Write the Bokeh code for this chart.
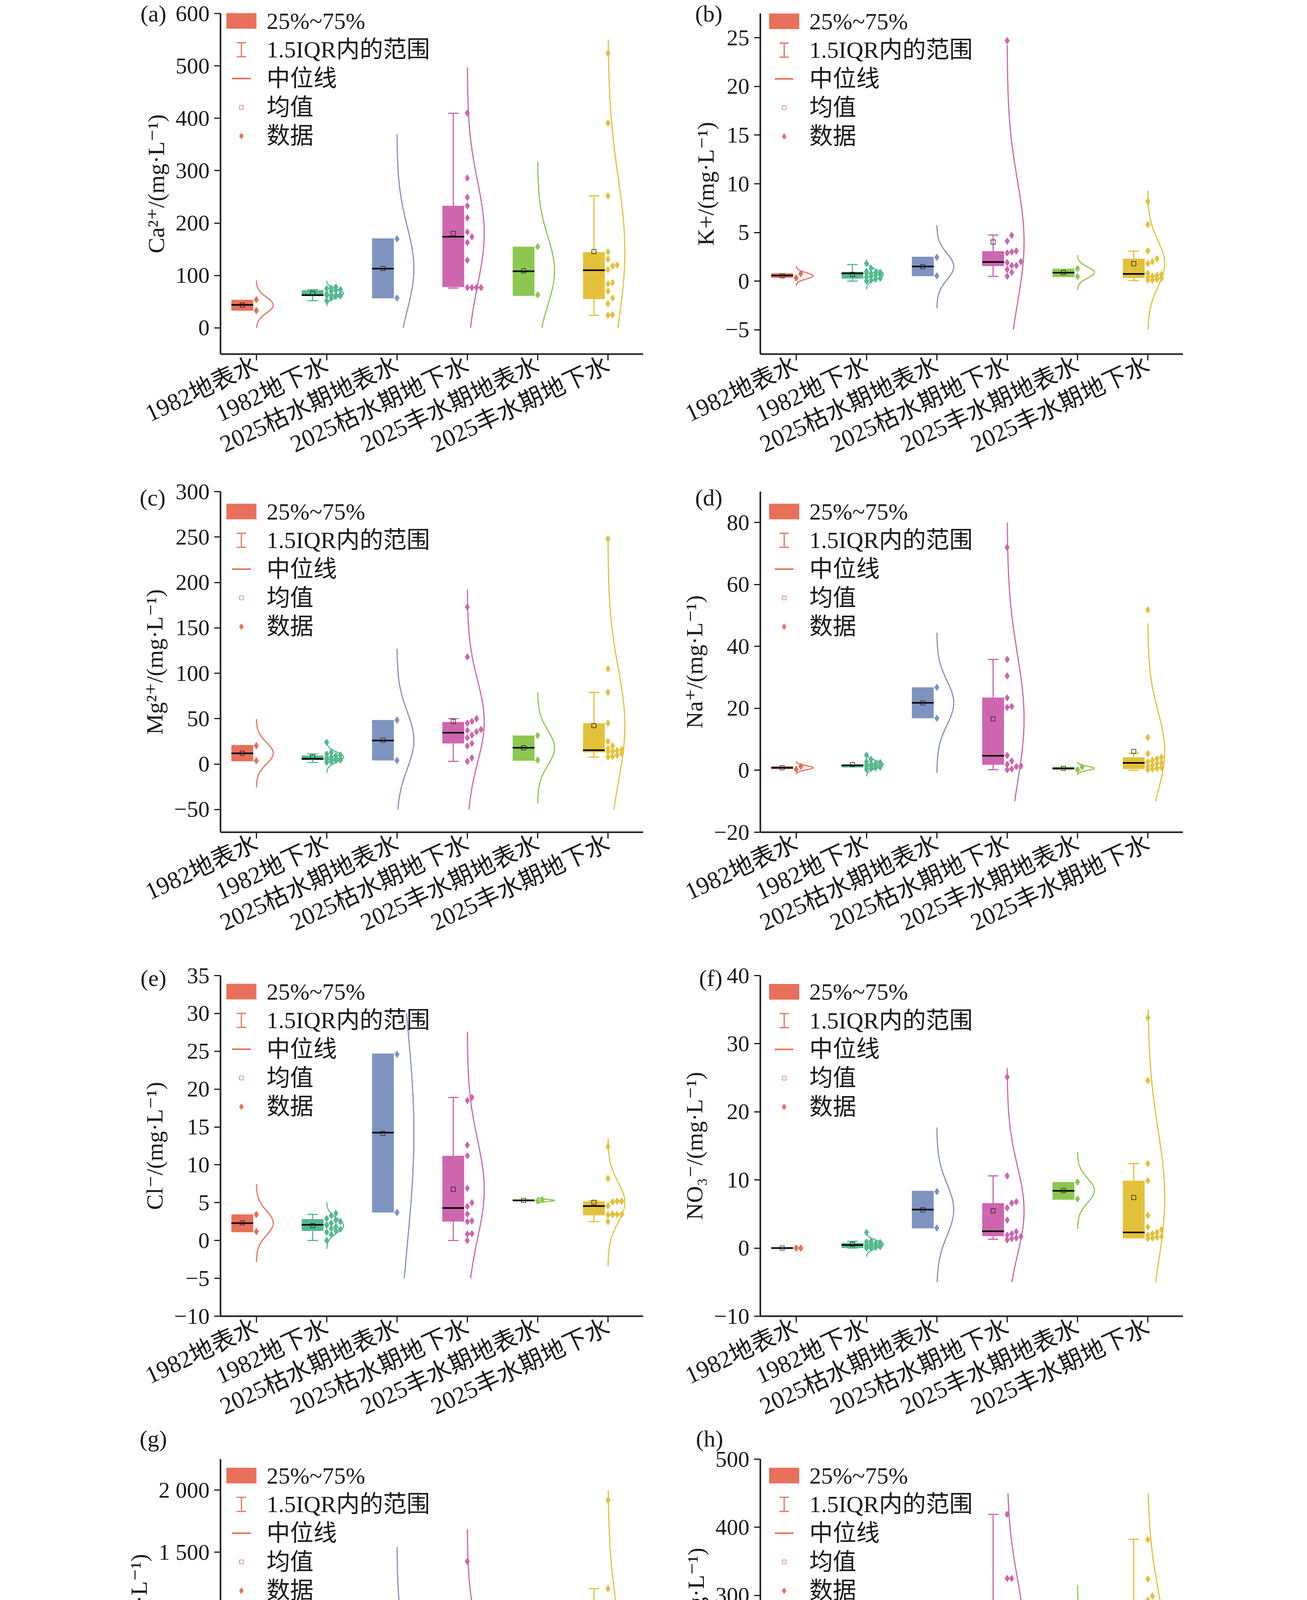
import numpy as np
from math import pi
from bokeh.plotting import figure
from bokeh.layouts import gridplot
from bokeh.models import Range1d, FixedTicker, Label
from bokeh.embed import file_html
from bokeh.resources import INLINE

# ---------------- data ----------------
groups = ["1982地表水", "1982地下水", "2025枯水期地表水", "2025枯水期地下水", "2025丰水期地表水", "2025丰水期地下水"]
legend_labels = ["25%~75%", "1.5IQR内的范围", "中位线", "均值", "数据"]

ca_pts = [[54, 33], [52, 57, 60, 61, 62, 62, 62.5, 63, 65, 70, 72, 73, 75, 76, 78], [170, 57],
          [410, 286, 249, 233, 210, 183, 174, 163, 129, 77, 77, 77, 77], [155, 63],
          [524, 391, 252, 145, 131, 120, 118, 111, 86, 84, 70, 57, 46, 25, 24]]
ca_q1 = [33, 60.7, 56.5, 78, 61, 55]
ca_med = [44, 62.5, 113, 174, 108, 110]
ca_q3 = [53.6, 72, 170.8, 233, 155, 144.6]
ca_wlo = [None, 52, None, 76, None, 24]
ca_whi = [None, 73, None, 409.5, None, 252]

k_pts = [[0.77, 0.32], [1.8, 1.3, 1.0, 0.9, 0.8, 0.8, 0.7, 0.6, 0.5, 0.4, 0.3, 0.2, 0.1, 0.0, 0.9], [2.44, 0.55],
         [24.7, 4.7, 4.1, 3.1, 3.0, 2.9, 2.0, 1.9, 1.6, 1.6, 1.2, 0.9, 0.5], [1.28, 0.48],
         [8.2, 5.8, 3.1, 2.3, 2.0, 1.8, 0.8, 0.7, 0.6, 0.5, 0.4, 0.3, 0.2, 0.1, 0.1]]
k_q1 = [0.35, 0.26, 0.51, 1.54, 0.42, 0.32]
k_med = [0.58, 0.8, 1.5, 1.96, 0.87, 0.74]
k_q3 = [0.8, 0.96, 2.5, 3.08, 1.28, 2.3]
k_wlo = [None, 0.0, None, 0.48, None, 0.06]
k_whi = [None, 1.7, None, 4.74, None, 3.08]

mg_pts = [[20.3, 3.7], [24, 13, 11, 10, 9, 8, 7, 6, 6, 5, 5, 4.5, 4, 3, 2], [48.5, 4],
          [173, 118, 50, 47, 45, 38, 37, 35.6, 32, 29, 22.7, 20, 6.8, 3], [31.5, 4.4],
          [248, 105, 79, 45, 25, 20, 17, 16, 15, 14, 13.5, 12, 10, 8.5, 8]]
mg_q1 = [3, 4.4, 4, 22.7, 3.7, 12.9]
mg_med = [11.9, 5.8, 26, 34.6, 18, 15.3]
mg_q3 = [21, 9.5, 48.5, 46.4, 31.5, 45]
mg_wlo = [None, 1.7, None, 3, None, 7.8]
mg_whi = [None, 11.2, None, 50, None, 79]

na_pts = [[1.3, 0.35], [4.9, 3.5, 2.8, 2.5, 2.2, 2.0, 1.8, 1.6, 1.5, 1.4, 1.2, 1.0, 0.8, 0.6, 0.3], [26.8, 16.8],
          [72, 35.8, 30.5, 23.4, 20.6, 20.3, 4.8, 3.0, 1.9, 1.4, 1.2, 0.4, 0.2], [1.1, 0.15],
          [51.8, 10.6, 5.4, 4.2, 3.7, 3.2, 2.7, 2.4, 2.2, 1.7, 1.2, 0.9, 0.7, 0.4, 0.2]]
na_q1 = [0.4, 0.9, 16.8, 1.8, 0.2, 0.4]
na_med = [0.8, 1.6, 21.8, 4.7, 0.6, 2.4]
na_q3 = [1.3, 1.9, 26.8, 23.5, 1.1, 4.2]
na_wlo = [None, None, None, 0.2, None, 0.0]
na_whi = [None, None, None, 35.8, None, 5.5]

cl_pts = [[3.45, 1.18], [3.6, 3.3, 2.9, 2.7, 2.5, 2.3, 2.1, 2.0, 1.8, 1.6, 1.5, 1.3, 1.1, 0.8, 0.0], [24.6, 3.7],
          [18.9, 18.5, 12.6, 11.2, 6.9, 5.0, 4.5, 3.5, 2.6, 2.5, 0.9, 0.85, 0.0], [5.4, 5.2],
          [12.4, 8.2, 5.2, 5.2, 5.2, 5.1, 4.6, 3.5, 3.45, 3.45, 3.4, 3.4, 2.5]]
cl_q1 = [1.1, 1.26, 3.7, 2.5, 5.16, 3.33]
cl_med = [2.3, 2.07, 14.25, 4.3, 5.3, 4.55]
cl_q3 = [3.45, 2.84, 24.7, 11.2, 5.44, 5.16]
cl_wlo = [None, 0.0, None, 0.0, None, 2.5]
cl_whi = [None, 3.45, None, 18.9, None, 5.24]

no3_pts = [[0.0, 0.0], [2.3, 1.0, 0.9, 0.8, 0.7, 0.6, 0.5, 0.45, 0.4, 0.3, 0.25, 0.2, 0.1, 0.0, 0.0], [8.3, 2.96],
           [25.1, 10.6, 6.8, 6.6, 5.9, 4.1, 2.4, 2.1, 1.9, 1.7, 1.5, 1.4, 1.2], [9.7, 7.2],
           [33.8, 24.6, 12.4, 9.9, 4.8, 3.1, 2.7, 2.3, 2.1, 1.9, 1.7, 1.6, 1.5, 1.4]]
no3_q1 = [0, 0, 2.9, 1.75, 7.1, 1.43]
no3_med = [0, 0.45, 5.65, 2.47, 8.4, 2.3]
no3_q3 = [0, 0.76, 8.4, 6.6, 9.7, 9.9]
no3_wlo = [None, 0.0, None, 1.3, None, None]
no3_whi = [None, 1.0, None, 10.6, None, 12.4]

so4_pts = [[30, 15], [45, 40, 35, 32, 30, 28, 26, 25, 24, 22, 20, 18, 15, 12, 8], [600, 67],
           [1425, 902, 650, 605, 540, 475, 455, 418, 405, 270, 117, 67, 30], [305, 37],
           [1918, 1205, 972, 668, 350, 262, 205, 148, 105, 98, 80, 55, 42, 25, 0]]
so4_q1 = [15, 12, 62.5, 270, 32.5, 72.5]
so4_med = [22.5, 25, 332, 452, 168, 157]
so4_q3 = [30, 42, 600, 607, 305, 670]
so4_wlo = [None, 5, None, 25, None, 0]
so4_whi = [None, 45, None, 902, None, 1205]

hco3_pts = [[179.6, 160.4], [245, 232, 230, 221, 218, 215, 210, 207, 205, 204, 200, 191, 185, 170, 139], [154.5, 82],
            [419, 325, 325, 273, 270, 246, 238, 221, 209, 169, 160, 151, 99], [218, 162.7],
            [382, 324, 299, 293, 263, 250, 244, 226, 212, 201, 183, 173, 159, 79, 71]]
hco3_q1 = [160, 191, 82, 168, 162.3, 172.3]
hco3_med = [170, 207.8, 118, 238, 190, 225]
hco3_q3 = [179.6, 219.7, 154.5, 273.5, 217.9, 292.6]
hco3_wlo = [None, 170.5, None, 99, None, 71.6]
hco3_whi = [None, 244.8, None, 419, None, 382.4]

ph_pts = [[7.7, 5.99], [8.05, 7.7, 7.6, 7.5, 7.5, 7.45, 7.4, 7.4, 7.35, 7.3, 7.3, 7.25, 7.2, 7.2, 7.15], [8.0, 7.19],
          [7.64, 7.6, 7.55, 7.5, 7.45, 7.2, 7.15, 7.12, 7.1, 7.05, 7.0, 6.9, 6.7], [8.12, 7.79],
          [8.32, 8.1, 7.72, 7.61, 7.52, 7.41, 7.35, 7.23, 7.17, 7.12, 7.1, 7.08, 7.05, 6.8, 3.07]]
ph_q1 = [5.98, 7.28, 7.17, 7.01, 7.79, 7.08]
ph_med = [6.84, 7.4, 7.6, 7.15, 7.94, 7.2]
ph_q3 = [7.7, 7.5, 8.0, 7.5, 8.12, 7.66]
ph_wlo = [None, 7.19, None, 6.69, None, 6.79]
ph_whi = [None, 7.7, None, 7.61, None, 8.32]

tds_pts = [[195, 170], [280, 265, 255, 250, 245, 240, 235, 230, 225, 220, 215, 210, 200, 190, 165], [929, 244],
           [2296, 1481, 1059, 1036, 1009, 979, 853, 838, 754, 735, 613, 343, 312, 221], [640, 213],
           [2963, 1912, 1413, 1158, 617, 552, 495, 480, 430, 381, 280, 274, 259, 198, 114]]
tds_q1 = [170, 202, 236, 609, 202, 267]
tds_med = [183, 221, 583, 834, 423, 476]
tds_q3 = [198, 251, 933, 1032, 640, 1158]
tds_wlo = [None, 171, None, 221, None, 110]
tds_whi = [None, 267, None, 1481, None, 1912]

# ---------------- style ----------------
colors = ["#E8705A", "#55B98F", "#7F93C1", "#CD66AE", "#8CC751", "#E3C13A"]
FONT = "Liberation Serif, DejaVu Serif, Noto Sans CJK SC"
INK = "#1a1a1a"
AXW, AXH = 1082, 872          # size of the axes box in pixels
X0, X1 = 0.49, 6.5
ROW_TOP = [34, 36, 36, 88, 56]      # room above the y axis in each row
ROW_BOT = [316, 331, 278, 310, 296]  # room below the x axis in each row
INF = float("inf")

panels = [
    dict(tag="(a)", ylabel="Ca²⁺/(mg·L⁻¹)", pts=ca_pts, q1=ca_q1, med=ca_med, q3=ca_q3, wlo=ca_wlo, whi=ca_whi,
         yr=(-50, 600), ticks=list(range(0, 601, 100)), clip=(0, 550), leg=(53.5, 19), tag_xy=(-205, 0)),
    dict(tag="(b)", ylabel="K+/(mg·L⁻¹)", pts=k_pts, q1=k_q1, med=k_med, q3=k_q3, wlo=k_wlo, whi=k_whi,
         yr=(-7.5, 27.5), ticks=list(range(-5, 26, 5)), clip=(-5, INF), leg=(61, 20), tag_xy=(-167, 0)),
    dict(tag="(c)", ylabel="Mg²⁺/(mg·L⁻¹)", pts=mg_pts, q1=mg_q1, med=mg_med, q3=mg_q3, wlo=mg_wlo, whi=mg_whi,
         yr=(-75, 300), ticks=list(range(-50, 301, 50)), clip=(-50, INF), leg=(53.5, 51), tag_xy=(-207, 15)),
    dict(tag="(d)", ylabel="Na⁺/(mg·L⁻¹)", pts=na_pts, q1=na_q1, med=na_med, q3=na_q3, wlo=na_wlo, whi=na_whi,
         yr=(-20, 90), ticks=list(range(-20, 81, 20)), clip=(-10, 80), leg=(61, 51), tag_xy=(-167, 15)),
    dict(tag="(e)", ylabel="Cl⁻/(mg·L⁻¹)", pts=cl_pts, q1=cl_q1, med=cl_med, q3=cl_q3, wlo=cl_wlo, whi=cl_whi,
         yr=(-10, 35), ticks=list(range(-10, 36, 5)), clip=(-5, 30), leg=(53.5, 41), tag_xy=(-205, 6)),
    dict(tag="(f)", ylabel="NO₃⁻/(mg·L⁻¹)", pts=no3_pts, q1=no3_q1, med=no3_med, q3=no3_q3, wlo=no3_wlo, whi=no3_whi,
         yr=(-10, 40), ticks=list(range(-10, 41, 10)), clip=(-5, 35), leg=(61, 41.5), tag_xy=(-157, 6)),
    dict(tag="(g)", ylabel="SO₄²⁻/(mg·L⁻¹)", pts=so4_pts, q1=so4_q1, med=so4_med, q3=so4_q3, wlo=so4_wlo, whi=so4_whi,
         yr=(-500, 2250), ticks=list(range(-500, 2001, 500)), clip=(-200, 2000), leg=(53.5, 42), tag_xy=(-207, -53)),
    dict(tag="(h)", ylabel="HCO₃⁻/(mg·L⁻¹)", pts=hco3_pts, q1=hco3_q1, med=hco3_med, q3=hco3_q3, wlo=hco3_wlo, whi=hco3_whi,
         yr=(0, 500), ticks=list(range(0, 501, 100)), clip=(50, 450), leg=(61, 42), tag_xy=(-165, -53)),
    dict(tag="(i)", ylabel="pH", pts=ph_pts, q1=ph_q1, med=ph_med, q3=ph_q3, wlo=ph_wlo, whi=ph_whi,
         yr=(2, 12), ticks=list(range(2, 13)), clip=(-INF, 9), leg=(504.5, 531), tag_xy=(-198, -20)),
    dict(tag="(j)", ylabel="TDS/(mg·L⁻¹)", pts=tds_pts, q1=tds_q1, med=tds_med, q3=tds_q3, wlo=tds_wlo, whi=tds_whi,
         yr=(-500, 3750), ticks=list(range(-500, 3501, 500)), clip=(0, INF), leg=(61, 50), tag_xy=(-154, -20)),
]


def fmt(v):
    s = f"{abs(v):,}".replace(",", " ")
    return ("−" if v < 0 else "") + s


def swarm(vals, ppy, step=0.065, ncol=4, r_px=16.0):
    vals = np.asarray(vals, float)
    order = np.argsort(vals, kind="stable")
    placed = []
    offs = np.zeros(len(vals))
    for i in order:
        ypx = vals[i] * ppy
        k = 0
        while k < ncol and any(abs(o - k * step) < step * 0.5 and abs(yp - ypx) < r_px for o, yp in placed):
            k += 1
        if k >= ncol:
            k = len(placed) % ncol
        offs[i] = k * step
        placed.append((k * step, ypx))
    return offs


def build(cfg, col, rowi):
    y0, y1 = cfg["yr"]
    ppx = AXW / (X1 - X0)
    ppy = AXH / (y1 - y0)
    left_px = 564 if col == 0 else 281
    right_px = 19 if col == 0 else 302
    top_px, bot_px = ROW_TOP[rowi], ROW_BOT[rowi]
    xl = X0 - left_px / ppx
    xr = X1 + right_px / ppx
    yt = y1 + top_px / ppy
    yb = y0 - bot_px / ppy
    p = figure(frame_width=left_px + AXW + right_px, frame_height=top_px + AXH + bot_px,
               x_range=Range1d(xl, xr), y_range=Range1d(yb, yt),
               output_backend="svg", toolbar_location=None,
               min_border_left=0, min_border_right=0, min_border_top=0, min_border_bottom=0)
    p.outline_line_color = None
    p.grid.visible = False
    p.background_fill_color = "white"
    p.border_fill_color = "white"
    cats = np.arange(1, 7, dtype=float)

    def dx(v):
        return X0 + v / ppx

    def dy(v):
        return y1 - v / ppy

    # distribution curves (normal curve from each group's mean / sd)
    for i in range(6):
        v = np.asarray(cfg["pts"][i], float)
        mu, sd = v.mean(), v.std(ddof=1)
        if sd <= 0:
            continue
        lo = max(mu - 3.2 * sd, cfg["clip"][0])
        hi = min(mu + 3.2 * sd, cfg["clip"][1])
        ys = np.linspace(lo, hi, 300)
        xs = cats[i] + 0.24 * np.exp(-0.5 * ((ys - mu) / sd) ** 2)
        p.line(xs, ys, line_color=colors[i], line_width=3)

    # boxes
    p.vbar(x=cats - 0.2, width=0.31, bottom=cfg["q1"], top=cfg["q3"], fill_color=colors, line_color=None)

    # whiskers
    wx, wy0, wy1, wc = [], [], [], []
    cx0, cx1, cy, cc = [], [], [], []
    for i in range(6):
        xc = cats[i] - 0.2
        for edge, w in ((cfg["q3"][i], cfg["whi"][i]), (cfg["q1"][i], cfg["wlo"][i])):
            if w is None:
                continue
            wx.append(xc); wy0.append(edge); wy1.append(w); wc.append(colors[i])
            cx0.append(xc - 0.075); cx1.append(xc + 0.075); cy.append(w); cc.append(colors[i])
    if wx:
        p.segment(x0=wx, x1=wx, y0=wy0, y1=wy1, line_color=wc, line_width=3)
        p.segment(x0=cx0, x1=cx1, y0=cy, y1=cy, line_color=cc, line_width=3)

    # median
    p.segment(x0=cats - 0.355, x1=cats - 0.045, y0=cfg["med"], y1=cfg["med"], line_color="black", line_width=4)

    # mean
    means = [float(np.mean(v)) for v in cfg["pts"]]
    p.scatter(x=cats - 0.2, y=means, marker="square", size=11, fill_color=None, line_color="#222222", line_width=1.5)

    # data points
    px, py, pc = [], [], []
    for i in range(6):
        offs = swarm(cfg["pts"][i], ppy)
        for v, o in zip(cfg["pts"][i], offs):
            px.append(cats[i] + o); py.append(v); pc.append(colors[i])
    p.scatter(x=px, y=py, marker="diamond", size=16, fill_color=pc, line_color=pc, line_width=2)

    # axes, pinned to the corner of the data box
    for ax in (p.xaxis[0], p.yaxis[0]):
        ax.axis_line_width = 4
        ax.axis_line_color = INK
        ax.major_tick_line_width = 3
        ax.major_tick_line_color = INK
        ax.major_tick_out = 16
        ax.major_tick_in = 0
        ax.minor_tick_line_color = None
        ax.major_label_text_font = FONT
        ax.major_label_text_color = INK
    p.xaxis.fixed_location = y0
    p.xaxis.bounds = (X0, X1)
    p.xaxis.ticker = FixedTicker(ticks=[1, 2, 3, 4, 5, 6], minor_ticks=[])
    p.xaxis.major_label_overrides = {i + 1: g for i, g in enumerate(groups)}
    p.xaxis.major_label_orientation = 25 * pi / 180
    p.xaxis.major_label_text_font_size = "62px"
    p.xaxis.major_label_standoff = 8
    p.yaxis.fixed_location = X0
    p.yaxis.bounds = (y0, y1)
    p.yaxis.ticker = FixedTicker(ticks=cfg["ticks"], minor_ticks=[])
    p.yaxis.major_label_overrides = {t: fmt(t) for t in cfg["ticks"]}
    p.yaxis.major_label_text_font_size = "58px"
    p.yaxis.major_label_standoff = 12
    p.yaxis.axis_label = cfg["ylabel"]
    p.yaxis.axis_label_text_font = FONT
    p.yaxis.axis_label_text_font_size = "60px"
    p.yaxis.axis_label_text_font_style = "normal"
    p.yaxis.axis_label_text_color = INK
    p.yaxis.axis_label_standoff = 14

    # legend key (drawn so that every glyph matches the original key)
    lc = colors[0]
    gx, gy0 = cfg["leg"]
    pitch = 73.7
    rows = [gy0 + k * pitch for k in range(5)]
    p.rect(x=[dx(gx)], y=[dy(rows[0])], width=77, height=40, width_units="screen", height_units="screen",
           fill_color=lc, line_color=None)
    p.segment(x0=[dx(gx)], x1=[dx(gx)], y0=[dy(rows[1] - 18)], y1=[dy(rows[1] + 18)], line_color=lc, line_width=3)
    p.segment(x0=[dx(gx - 12)] * 2, x1=[dx(gx + 12)] * 2, y0=[dy(rows[1] - 18), dy(rows[1] + 18)],
              y1=[dy(rows[1] - 18), dy(rows[1] + 18)], line_color=lc, line_width=3)
    p.segment(x0=[dx(gx - 24)], x1=[dx(gx + 24)], y0=[dy(rows[2])], y1=[dy(rows[2])], line_color=lc, line_width=4)
    p.scatter(x=[dx(gx)], y=[dy(rows[3])], marker="square", size=10, fill_color=None, line_color=lc, line_width=1.5)
    p.scatter(x=[dx(gx)], y=[dy(rows[4])], marker="diamond", size=14, fill_color=lc, line_color=lc, line_width=2)
    for k, txt in enumerate(legend_labels):
        p.add_layout(Label(x=dx(gx + 64.5), y=dy(rows[k]), text=txt,
                           text_baseline="middle", text_align="left", text_font=FONT,
                           text_font_size="60px", text_color=INK))

    # panel tag
    tx, ty = cfg["tag_xy"]
    p.add_layout(Label(x=dx(tx), y=dy(ty), text=cfg["tag"], text_baseline="middle", text_align="left",
                       text_font=FONT, text_font_size="60px", text_color=INK))
    return p


figs = []
for r in range(5):
    figs.append([build(panels[2 * r + c], c, r) for c in range(2)])

grid = gridplot(figs, toolbar_location=None)
open("out.html", "w").write(file_html(grid, INLINE, title="box charts"))
